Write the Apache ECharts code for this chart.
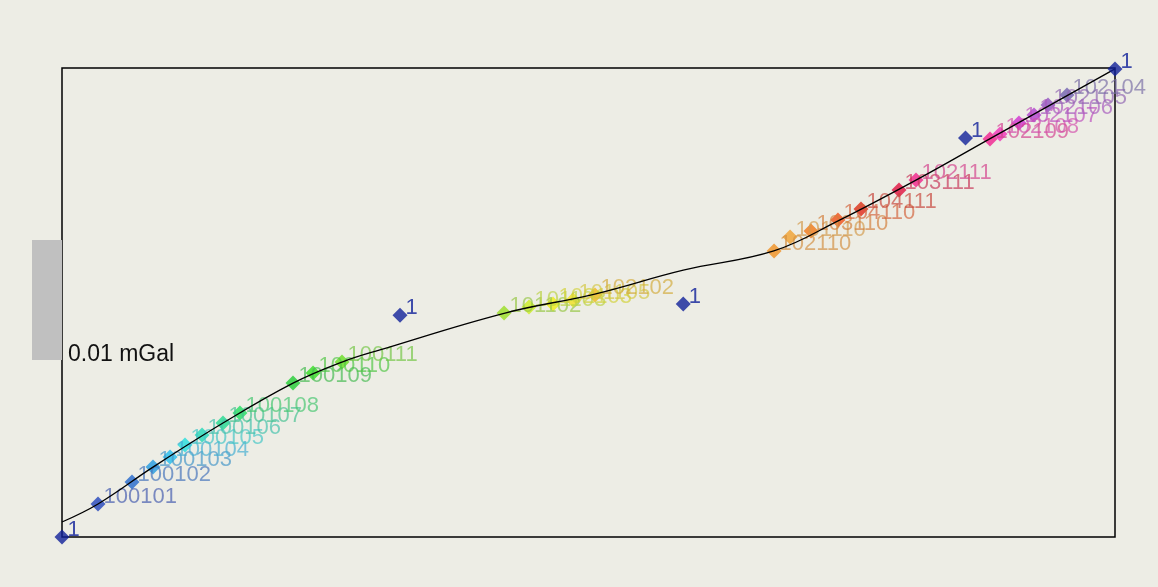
<!DOCTYPE html>
<html>
<head>
<meta charset="utf-8">
<script src="https://cdn.jsdelivr.net/npm/echarts@6/dist/echarts.min.js"></script>
<style>
html,body{margin:0;padding:0;background:#EDEDE5;}
#c{width:1158px;height:587px;}
</style>
</head>
<body>
<div id="c"></div>
<script>
// Station readings (relative time, relative gravity)
const stationNames = ['100101','100102','100103','100104','100105','100106','100107','100108','100109','100110','100111',
  '101102','101103','102103','101105','102102',
  '102110','101110','103110','104110','104111','103111','102111',
  '102109','102108','102107','102106','102105','102104'];
const stationX = [3.42,6.65,8.64,10.26,11.68,13.30,15.29,16.90,21.94,23.84,26.59,
  41.98,44.35,46.63,48.53,50.62,
  67.62,69.14,71.13,73.69,75.88,79.49,81.10,
  88.13,89.08,90.88,92.31,93.64,95.44];
const stationY = [7.04,11.73,14.93,17.06,19.62,21.75,24.31,26.44,32.84,34.97,37.31,
  47.76,49.04,49.68,50.53,51.60,
  60.98,63.97,65.25,67.59,69.94,73.99,76.12,
  84.86,85.93,88.27,89.98,92.11,94.24];
// Base station (labelled "1") readings
const baseNames = ['1','1','1','1','1'];
const baseX = [0, 32.1, 59.0, 85.8, 100];
const baseY = [0, 47.3, 49.7, 85.1, 99.8];
// Fitted drift curve
const curveX = [0, 3.42, 8.64, 15.29, 21.94, 26.59, 30.2, 42.07, 50.6, 59.0, 67.6, 73.7, 81.1, 88.1, 100];
const curveY = [3.2, 7.04, 14.9, 24.3, 32.8, 37.3, 39.9, 47.76, 51.8, 56.9, 61.0, 67.4, 76.1, 84.9, 99.8];
// Scale bar: 0.01 mGal in y units
const scaleLabel = '0.01 mGal';
const scaleY0 = 37.74, scaleY1 = 63.33;

const colors = ['#2244bb','#2266cc','#2299e0','#22bbee','#22dddd','#22d8b8','#22d890','#22dd60','#22cc33','#33dd22','#66dd22',
  '#99dd22','#ccee22','#eeee11','#f0e020','#f0b818',
  '#f09020','#f0a030','#f07818','#f05018','#e02818','#e01040','#f0208a',
  '#f02090','#f030b8','#d030d0','#b040d0','#9050c0','#7060b0'];
const baseColor = '#10209a';

function labelTone(hex){
  const n = parseInt(hex.slice(1),16);
  const mix = c => Math.round(c*0.7 + 0x90*0.3);
  return 'rgba('+mix((n>>16)&255)+','+mix((n>>8)&255)+','+mix(n&255)+',0.85)';
}
const FONT = 'Liberation Sans';
const chart = echarts.init(document.getElementById('c'), null, {renderer:'canvas'});
const stationData = stationX.map((x,i)=>({
  value:[x, stationY[i]], name: stationNames[i],
  itemStyle:{color: colors[i]},
  label:{color: labelTone(colors[i])}
}));
const baseData = baseX.map((x,i)=>({value:[x, baseY[i]], name: baseNames[i]}));
const labelCommon = {show:true, position:'right', distance:0, offset:[-2,-7], fontSize:22, fontFamily:FONT, formatter: p=>p.name};
chart.setOption({
  backgroundColor:'#EDEDE5',
  animation:false,
  grid:{left:62, right:43, top:68, bottom:50, show:true, borderColor:'#000', borderWidth:1.5, backgroundColor:'#EDEDE5'},
  xAxis:{type:'value', min:0, max:100, show:false},
  yAxis:{type:'value', min:0, max:100, show:false},
  series:[
    {type:'scatter', symbol:'diamond', symbolSize:15, data: stationData, label: labelCommon, z:2},
    {type:'line', data: curveX.map((x,i)=>[x, curveY[i]]), smooth:0.4, showSymbol:false, lineStyle:{color:'#000', width:1.3}, z:3, silent:true},
    {type:'scatter', symbol:'diamond', symbolSize:15, itemStyle:{color: baseColor}, data: baseData,
      label: Object.assign({}, labelCommon, {color: baseColor}), z:4}
  ]
});
const p0 = chart.convertToPixel({gridIndex:0}, [0, scaleY0]);
const p1 = chart.convertToPixel({gridIndex:0}, [0, scaleY1]);
chart.setOption({
  graphic:[
    {type:'rect', shape:{x:p0[0]-30, y:p1[1], width:30, height:p0[1]-p1[1]}, style:{fill:'#C0C0C0'}, z:1},
    {type:'text', x:p0[0]+6, y:p0[1]-5, style:{text: scaleLabel, font:'23px "'+FONT+'"', fill:'#111', textVerticalAlign:'middle'}, z:5}
  ]
});
</script>
</body>
</html>
